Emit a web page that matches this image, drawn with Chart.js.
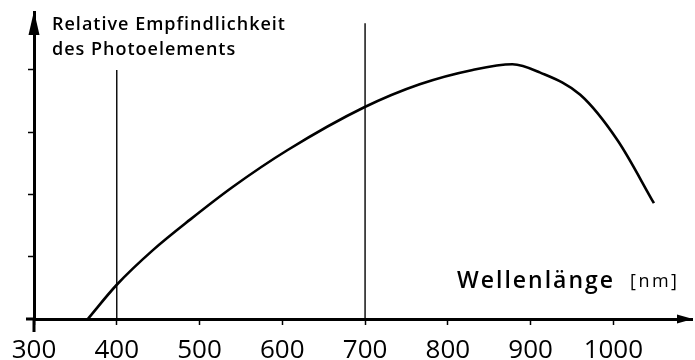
<!DOCTYPE html>
<html>
<head>
<meta charset="utf-8">
<script src="https://cdn.jsdelivr.net/npm/chart.js@4/dist/chart.umd.min.js"></script>
<style>
  body { margin: 0; background: #fff; }
  #wrap { width: 695px; height: 360px; }
</style>
</head>
<body>
<div id="wrap"><canvas id="kurve"></canvas></div>
<script>
// Wellenlaenge in nm und relative Empfindlichkeit (Skalenteile)
var wellenlaenge = [365, 400, 444, 489, 540, 606, 699, 766, 830, 878, 911, 960, 1005, 1049];
var empfindlichkeit = [0, 0.55, 1.11, 1.60, 2.12, 2.71, 3.40, 3.77, 4.00, 4.09, 3.96, 3.60, 2.87, 1.86];

// senkrechte Markierungen bei 400 und 700 nm
var markenX = [400, 700];
var markenHoehe = [4.0, 4.75];

var xTicks = [300, 400, 500, 600, 700, 800, 900, 1000];
var yTicks = [1, 2, 3, 4];

var schrift = "'Open Sans', 'DejaVu Sans', sans-serif";

function punkte(xs, ys) {
    var out = [];
    for (var i = 0; i < xs.length; i++) out.push({x: xs[i], y: ys[i]});
    return out;
}

var datasets = [{
    data: punkte(wellenlaenge, empfindlichkeit),
    borderColor: '#000',
    borderWidth: 2.6,
    pointRadius: 0,
    cubicInterpolationMode: 'monotone',
    fill: false
}];

markenX.forEach(function(x, i) {
    datasets.push({
        data: [{x: x, y: 0}, {x: x, y: markenHoehe[i]}],
        borderColor: '#000',
        borderWidth: 1.4,
        pointRadius: 0,
        clip: false,
        fill: false
    });
});

// Pfeilspitzen, Achsenkreuz und Beschriftungen
var pfeile = {
    id: 'pfeile',
    afterDraw: function(chart) {
        var ctx = chart.ctx;
        var a = chart.chartArea;
        ctx.save();
        ctx.fillStyle = '#000';
        ctx.strokeStyle = '#000';

        ctx.lineWidth = 3;
        ctx.beginPath();
        ctx.moveTo(a.left, a.bottom);
        ctx.lineTo(a.left, a.bottom + 13);
        ctx.moveTo(a.left, a.bottom);
        ctx.lineTo(a.left - 8, a.bottom);
        ctx.stroke();

        ctx.beginPath();
        ctx.moveTo(a.right + 1, a.bottom);
        ctx.lineTo(a.right - 15, a.bottom - 4.5);
        ctx.lineTo(a.right - 15, a.bottom + 4.5);
        ctx.closePath();
        ctx.fill();

        ctx.beginPath();
        ctx.moveTo(a.left, a.top - 1);
        ctx.lineTo(a.left - 5.5, a.top + 23);
        ctx.lineTo(a.left + 5.5, a.top + 23);
        ctx.closePath();
        ctx.fill();

        ctx.textBaseline = 'alphabetic';
        ctx.textAlign = 'left';
        ctx.letterSpacing = '1px';
        ctx.font = '600 18px ' + schrift;
        ctx.fillText('Relative Empfindlichkeit', 52, 30);
        ctx.fillText('des Photoelements', 52, 55);

        ctx.letterSpacing = '2px';
        ctx.font = '600 23px ' + schrift;
        ctx.fillText('Wellenlänge', 457, 288);
        ctx.letterSpacing = '2.5px';
        ctx.font = '500 18px ' + schrift;
        ctx.fillText('[nm]', 630, 287);
        ctx.restore();
    }
};

new Chart(document.getElementById('kurve').getContext('2d'), {
    type: 'line',
    data: { datasets: datasets },
    plugins: [pfeile],
    options: {
        responsive: true,
        maintainAspectRatio: false,
        animation: false,
        layout: { padding: { left: 0, right: 3, top: 12, bottom: 0 } },
        plugins: {
            legend: { display: false },
            tooltip: { enabled: false }
        },
        scales: {
            x: {
                type: 'linear',
                min: 300,
                max: 1095,
                afterFit: function(scale) { scale.height = 41; },
                afterBuildTicks: function(scale) {
                    scale.ticks = xTicks.map(function(v) { return {value: v}; });
                },
                border: { display: true, color: '#000', width: 3 },
                grid: { drawOnChartArea: false, color: '#000', tickLength: 6, tickWidth: 1.5 },
                ticks: {
                    color: '#000',
                    padding: 10,
                    maxRotation: 0,
                    autoSkip: false,
                    font: { family: schrift, size: 26, weight: '500' },
                    callback: function(v) { return String(v); }
                }
            },
            y: {
                min: 0,
                max: 4.93,
                afterFit: function(scale) { scale.width = 34; },
                afterBuildTicks: function(scale) {
                    scale.ticks = yTicks.map(function(v) { return {value: v}; });
                },
                border: { display: true, color: '#000', width: 3 },
                grid: { drawOnChartArea: false, color: '#000', tickLength: 6, tickWidth: 1.5 },
                ticks: { display: false }
            }
        }
    }
});
</script>
</body>
</html>
